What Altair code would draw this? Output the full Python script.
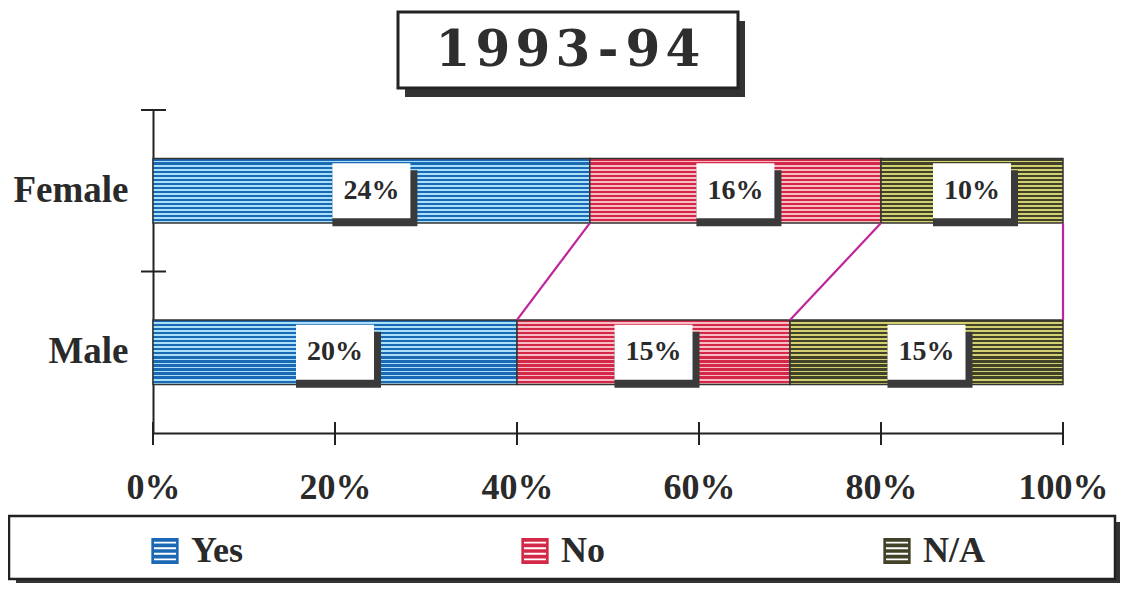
import altair as alt
import pandas as pd

# ---- data ----
genders = ["Female", "Male"]
answers = ["Yes", "No", "N/A"]
yes_pct = [24, 20]
no_pct = [16, 15]
na_pct = [10, 15]
x_ticks = [0, 0.2, 0.4, 0.6, 0.8, 1.0]
title_text = "1993-94"

# ---- style ----
dark = {"Yes": "#1b68b4", "No": "#d42848", "N/A": "#424229"}
light = {"Yes": "#a8e0fa", "No": "#f8bcc5", "N/A": "#d2d070"}
SERIF = "Liberation Serif"
INK = "#2a2a2a"
W, H = 910, 323


def stripes(a, n=16, frac=0.55):
    stops = []
    for k in range(n):
        a0, a1, a2 = k / n, (k + frac) / n, (k + 1) / n
        stops += [
            {"offset": a0, "color": dark[a]},
            {"offset": a1, "color": dark[a]},
            {"offset": a1, "color": light[a]},
            {"offset": a2, "color": light[a]},
        ]
    return {"gradient": "linear", "x1": 0, "y1": 0, "x2": 0, "y2": 1, "stops": stops}


rows = []
for gi, g in enumerate(genders):
    vals = [yes_pct[gi], no_pct[gi], na_pct[gi]]
    tot = sum(vals)
    cum = 0
    for a, v in zip(answers, vals):
        rows.append({"gender": g, "answer": a, "label": f"{v}%",
                     "start": cum / tot, "end": (cum + v) / tot,
                     "mid": (cum + v / 2) / tot})
        cum += v
df = pd.DataFrame(rows)

conn = df.pivot(index="answer", columns="gender", values="end").reset_index()
conn["g1"] = genders[0]
conn["g2"] = genders[1]

ticks_df = pd.DataFrame({"t": x_ticks})
gtick_df = pd.DataFrame({"gender": genders})

x_axis = alt.Axis(values=x_ticks, format=".0%", ticks=False, grid=False,
                  labelFont=SERIF, labelFontSize=36, labelFontWeight="bold",
                  labelColor=INK, domainColor="#222", domainWidth=2,
                  labelPadding=37, labelFlush=False)
y_axis = alt.Axis(ticks=False, grid=False, labelFont=SERIF, labelFontSize=37,
                  labelFontWeight="bold", labelColor=INK, domainColor="#222",
                  domainWidth=2, labelPadding=25)
x_scale = alt.Scale(domain=[0, 1])
y_scale = alt.Scale(domain=genders, paddingInner=0, paddingOuter=0)


def X(f):
    return alt.X(f, scale=x_scale, axis=x_axis, title=None)


def Y(f="gender:N", **kw):
    return alt.Y(f, scale=y_scale, axis=y_axis, title=None, **kw)


layers = []
for a in answers:
    layers.append(
        alt.Chart(df).transform_filter(alt.datum.answer == a)
        .mark_bar(fill=stripes(a), stroke="#333", strokeWidth=1.5,
                  height=alt.RelativeBandSize(band=0.4))
        .encode(x=X("start:Q"), x2="end:Q", y=Y())
    )

connectors = alt.Chart(conn).mark_rule(color="#c0249a", strokeWidth=2.2).encode(
    x=X("Female:Q"), x2="Male:Q",
    y=Y("g1:N", bandPosition=0.7), y2=alt.Y2("g2:N", bandPosition=0.3),
)

box_path = "M-1.418,-1L1.418,-1L1.418,1L-1.418,1Z"
shadow_path = "M-1.418,-0.75L1.673,-0.75L1.673,1.29L-1.418,1.29Z"
shadows = alt.Chart(df).mark_point(shape=shadow_path, size=3025, filled=True,
                                   fill="#3a3a3a", opacity=1, strokeWidth=0).encode(
    x=X("mid:Q"), y=Y())
boxes = alt.Chart(df).mark_point(shape=box_path, size=3025, filled=True,
                                 fill="white", opacity=1, strokeWidth=0).encode(
    x=X("mid:Q"), y=Y())
texts = alt.Chart(df).mark_text(font=SERIF, fontSize=28, fontWeight="bold",
                                color=INK, baseline="middle").encode(
    x=X("mid:Q"), y=Y(), text="label:N")

xticks = alt.Chart(ticks_df).mark_rule(color="#222", strokeWidth=2).encode(
    x=X("t:Q"), y=alt.value(H - 11), y2=alt.value(H + 12))
yticks = alt.Chart(gtick_df).mark_rule(color="#222", strokeWidth=2).encode(
    y=Y("gender:N", bandPosition=0), x=alt.value(-12), x2=alt.value(13))

one = alt.Data(values=[{"k": 1}])
# title frame
t_shadow = alt.Chart(one).mark_rect(fill="#333").encode(
    x=alt.value(252), x2=alt.value(592), y=alt.value(-89), y2=alt.value(-13))
t_frame = alt.Chart(one).mark_rect(fill="white", stroke="#222", strokeWidth=3).encode(
    x=alt.value(245), x2=alt.value(585), y=alt.value(-98), y2=alt.value(-22))
adv = [40 if c != "-" else 30 for c in title_text]
cx = 415 - sum(adv) / 2
pos = []
for w in adv:
    pos.append(cx + w / 2)
    cx += w
title_df = pd.DataFrame({"ch": list(title_text), "px": pos})
t_text = alt.Chart(title_df).mark_text(font="DejaVu Serif", fontSize=50,
                                       fontWeight="bold", color="#2e2e2e",
                                       baseline="middle").encode(
    x=alt.X("px:Q", scale=None), y=alt.value(-59), text="ch:N")

# legend frame
l_shadow = alt.Chart(one).mark_rect(fill="#333").encode(
    x=alt.value(-137), x2=alt.value(969), y=alt.value(412), y2=alt.value(475))
l_frame = alt.Chart(one).mark_rect(fill="white", stroke="#222", strokeWidth=2.5).encode(
    x=alt.value(-144), x2=alt.value(962), y=alt.value(406), y2=alt.value(469))

# legend symbol: framed stripes
sym = ("M-1.05,-1L1.05,-1L1.05,-0.72L-1.05,-0.72Z"
       "M-1.05,-0.57L1.05,-0.57L1.05,-0.29L-1.05,-0.29Z"
       "M-1.05,-0.14L1.05,-0.14L1.05,0.14L-1.05,0.14Z"
       "M-1.05,0.29L1.05,0.29L1.05,0.57L-1.05,0.57Z"
       "M-1.05,0.72L1.05,0.72L1.05,1L-1.05,1Z"
       "M-1.05,-1L-0.85,-1L-0.85,1L-1.05,1Z"
       "M0.85,-1L1.05,-1L1.05,1L0.85,1Z")
legend_layer = alt.Chart(df).mark_point(filled=True, opacity=0).encode(
    x=X("mid:Q"), y=Y(),
    color=alt.Color("answer:N",
                    scale=alt.Scale(domain=answers, range=[dark[a] for a in answers]),
                    legend=alt.Legend(title=None, orient="none", legendX=-6, legendY=423,
                                      direction="horizontal", columns=3,
                                      columnPadding=274, symbolType=sym,
                                      symbolSize=676, symbolOpacity=1,
                                      symbolStrokeWidth=0, labelFont=SERIF,
                                      labelFontSize=36, labelFontWeight="bold",
                                      labelColor=INK, labelOffset=8, padding=0)))

chart = alt.layer(
    t_shadow, t_frame, t_text, l_shadow, l_frame,
    *layers, connectors, shadows, boxes, texts, xticks, yticks, legend_layer
).properties(
    width=W, height=H,
    padding={"left": 145, "top": 102, "right": 57, "bottom": 150},
    autosize=alt.AutoSizeParams(type="none"),
    background="white",
).configure_view(stroke=None)

chart.save("out.html", embed_options={"renderer": "svg", "actions": False})
